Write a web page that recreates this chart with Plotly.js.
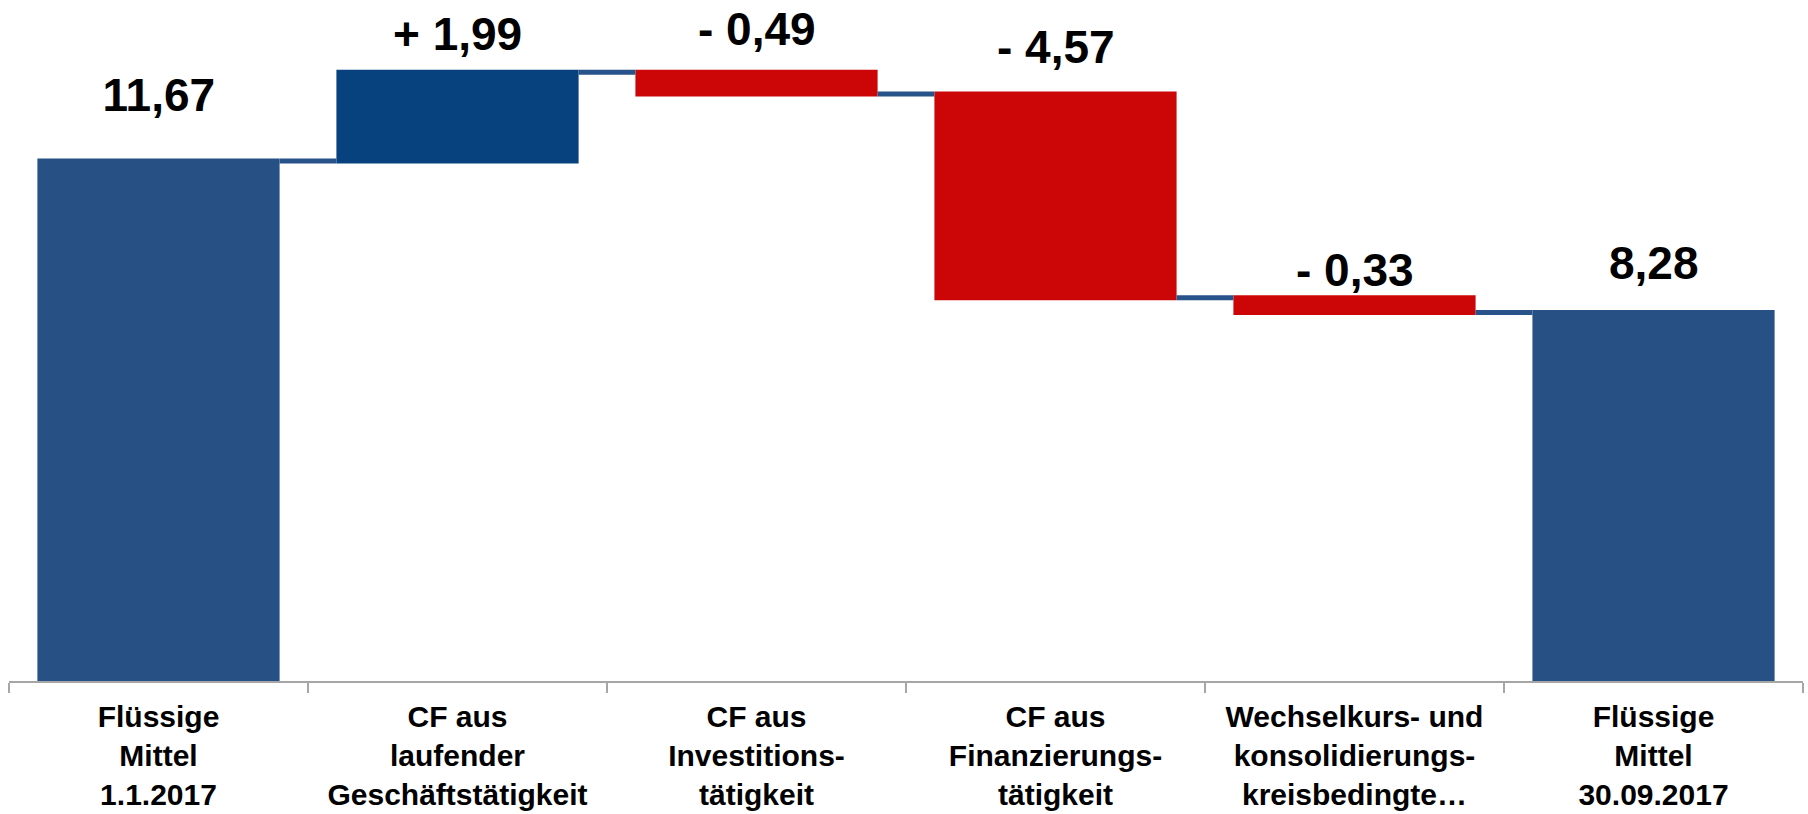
<!DOCTYPE html>
<html>
<head>
<meta charset="utf-8">
<script src="https://cdn.plot.ly/plotly-3.0.1.min.js"></script>
<style>
  html, body { margin: 0; padding: 0; background: #fff; }
  #plot { width: 1808px; height: 814px; }
</style>
</head>
<body>
<div id="plot"></div>
<script>
// categories (x-axis labels)
const categories = [
  "Flüssige<br>Mittel<br>1.1.2017",
  "CF aus<br>laufender<br>Geschäftstätigkeit",
  "CF aus<br>Investitions-<br>tätigkeit",
  "CF aus<br>Finanzierungs-<br>tätigkeit",
  "Wechselkurs- und<br>konsolidierungs-<br>kreisbedingte…",
  "Flüssige<br>Mittel<br>30.09.2017"
];
// values in Mio., start / changes / end
const values = [11.67, 1.99, -0.49, -4.57, -0.33, 8.28];
const measures = ["absolute", "relative", "relative", "relative", "relative", "total"];

// label offsets above the bars (px), just styling
const labelShift = [38, 10, 15, 19, 0, 21];

function fmt(v, measure) {
  const s = Math.abs(v).toFixed(2).replace(".", ",");
  if (measure === "relative") {
    return (v >= 0 ? "+ " : "- ") + s;
  }
  return s;
}

// work out the top of each bar for the labels
let running = 0;
const tops = [];
for (let i = 0; i < values.length; i++) {
  if (measures[i] === "absolute") {
    running = values[i];
    tops.push(values[i]);
  } else if (measures[i] === "total") {
    tops.push(running);
  } else {
    const start = running;
    running += values[i];
    tops.push(Math.max(start, running));
  }
}

const annotations = categories.map((c, i) => ({
  x: c,
  y: tops[i],
  xref: "x",
  yref: "y",
  text: fmt(values[i], measures[i]),
  showarrow: false,
  yanchor: "bottom",
  yshift: labelShift[i],
  font: { family: "Liberation Sans, Arial, sans-serif", size: 46, color: "#000" },
}));

const trace = {
  type: "waterfall",
  x: categories,
  y: values,
  measure: measures,
  base: 0,
  width: 0.81,
  textinfo: "none",
  hoverinfo: "skip",
  increasing: { marker: { color: "#07427F" } },
  decreasing: { marker: { color: "#CC0606" } },
  totals: { marker: { color: "#275185" } },
  connector: {
    mode: "between",
    line: { color: "#27528A", width: 5 },
  },
};

const layout = {
  width: 1808,
  height: 814,
  margin: { l: 9, r: 5, t: 0, b: 133 },
  paper_bgcolor: "#fff",
  plot_bgcolor: "#fff",
  showlegend: false,
  xaxis: {
    type: "category",
    showline: true,
    linecolor: "#A6A6A6",
    linewidth: 2,
    ticks: "outside",
    tickson: "boundaries",
    ticklen: 10,
    tickwidth: 2,
    tickcolor: "#A6A6A6",
    showgrid: false,
    zeroline: false,
    tickfont: { family: "Liberation Sans, Arial, sans-serif", size: 30, color: "#000" },
    ticklabelstandoff: 8,
  },
  yaxis: {
    range: [0, 15.28],
    showticklabels: false,
    showgrid: false,
    zeroline: false,
    showline: false,
    ticks: "",
  },
  annotations: annotations,
};

Plotly.newPlot("plot", [trace], layout, { displayModeBar: false, staticPlot: true });
</script>
<style>
  /* all chart text is bold in the original */
  #plot text { font-weight: bold !important; }
</style>
</body>
</html>
